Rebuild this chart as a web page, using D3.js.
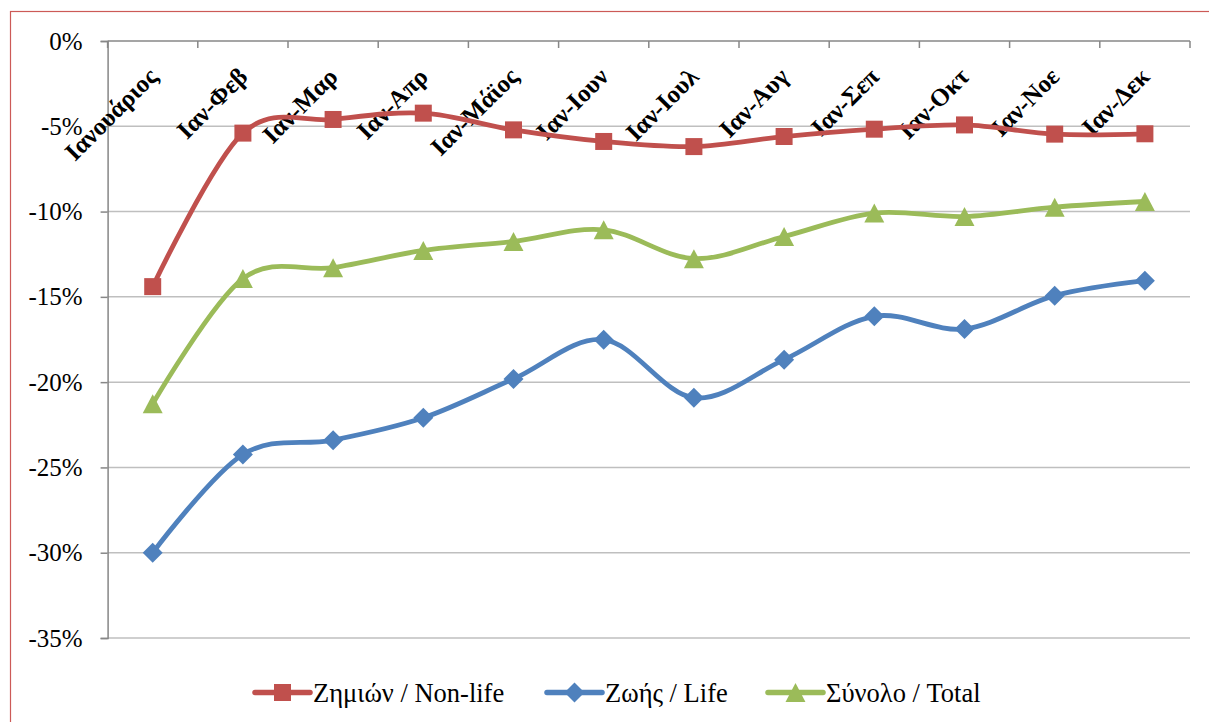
<!DOCTYPE html>
<html><head><meta charset="utf-8">
<script src="https://cdn.jsdelivr.net/npm/d3@7"></script>
<style>
body{margin:0;background:#fff;} svg{display:block;}
</style>
</head><body>
<script>
const categories = ["Ιανουάριος","Ιαν-Φεβ","Ιαν-Μαρ","Ιαν-Απρ","Ιαν-Μάϊος","Ιαν-Ιουν","Ιαν-Ιουλ","Ιαν-Αυγ","Ιαν-Σεπ","Ιαν-Οκτ","Ιαν-Νοε","Ιαν-Δεκ"];
const nonLife = [-14.4,-5.4,-4.6,-4.23,-5.21,-5.89,-6.19,-5.6,-5.17,-4.92,-5.46,-5.44];
const life    = [-30.0,-24.24,-23.4,-22.09,-19.81,-17.51,-20.92,-18.68,-16.14,-16.88,-14.93,-14.05];
const total   = [-21.27,-13.93,-13.29,-12.28,-11.75,-11.07,-12.76,-11.46,-10.09,-10.29,-9.74,-9.41];
const yTicks  = [0,-5,-10,-15,-20,-25,-30,-35];
const seriesNames = ["Ζημιών / Non-life","Ζωής / Life","Σύνολο / Total"];

const W = 1209, H = 722;
const FONT = '"Liberation Serif"';
const svg = d3.select("body").append("svg").attr("width", W).attr("height", H);

// chart border
svg.append("rect").attr("x",10.5).attr("y",11.5).attr("width",1230).attr("height",740)
  .attr("fill","none").attr("stroke","#cc5a57").attr("stroke-width",1.2);

const L = 107.6, R = 1190, T = 41, B = 638;
const x = d3.scaleBand().domain(categories).range([L, R]).padding(0);
const y = d3.scaleLinear().domain([0, -35]).range([T, B]);
const cx = c => x(c) + x.bandwidth()/2;

// gridlines
svg.append("g").selectAll("line").data(yTicks.filter(v => v !== 0)).join("line")
  .attr("x1", L).attr("x2", R).attr("y1", d => y(d)).attr("y2", d => y(d))
  .attr("stroke", "#bfbfbf").attr("stroke-width", 1.5);

// y axis
const yAxis = d3.axisLeft(y).tickValues(yTicks).tickSize(7).tickPadding(18)
  .tickFormat(d => d + "%");
const gy = svg.append("g").attr("transform", `translate(${L},0)`).call(yAxis)
  .attr("font-family", null).attr("font-size", null);
gy.select(".domain").attr("stroke", "#878787").attr("stroke-width", 1.5);
gy.selectAll(".tick line").attr("stroke", "#878787").attr("stroke-width", 1.5);
gy.selectAll(".tick text").style("font-family", FONT)
  .style("font-size", "25px").attr("fill", "#000");

// x axis at top (0%) with ticks at band edges pointing down
const edges = categories.map(c => x(c)).concat([R]);
svg.append("line").attr("x1", L).attr("x2", R).attr("y1", T).attr("y2", T)
  .attr("stroke", "#878787").attr("stroke-width", 1.5);
svg.append("g").selectAll("line").data(edges).join("line")
  .attr("x1", d => d).attr("x2", d => d).attr("y1", T).attr("y2", T + 7)
  .attr("stroke", "#878787").attr("stroke-width", 1.5);

// category labels
svg.append("g").selectAll("text").data(categories).join("text")
  .attr("transform", d => `translate(${cx(d)},${72}) rotate(-45)`)
  .attr("text-anchor", "end").attr("dy", "0.35em")
  .style("font-family", FONT)
  .style("font-weight", "bold").style("font-size", "25px").attr("fill", "#000")
  .text(d => d);

const series = [
  {name: seriesNames[0], values: nonLife, color: "#C0504D", marker: "square"},
  {name: seriesNames[1], values: life, color: "#4F81BD", marker: "diamond"},
  {name: seriesNames[2], values: total, color: "#9BBB59", marker: "triangle"}
];

const line = d3.line().curve(d3.curveCardinal.tension(0))
  .x((d, i) => cx(categories[i])).y(d => y(d));

function markerPath(type, s) {
  if (type === "square") { const h = s/2; return `M${-h},${-h}H${h}V${h}H${-h}Z`; }
  if (type === "diamond") { const h = s/2; return `M0,${-h}L${h},0L0,${h}L${-h},0Z`; }
  const h = s/2; return `M0,${-h}L${h*1.05},${h}L${-h*1.05},${h}Z`;
}
const mSize = {square: 17, diamond: 20, triangle: 19};

series.forEach(s => {
  svg.append("path").datum(s.values).attr("d", line)
    .attr("fill", "none").attr("stroke", s.color).attr("stroke-width", 4.8)
    .attr("stroke-linejoin", "round").attr("stroke-linecap", "round");
});
series.forEach(s => {
  svg.append("g").selectAll("path").data(s.values).join("path")
    .attr("transform", (d, i) => `translate(${cx(categories[i])},${y(d)})`)
    .attr("d", markerPath(s.marker, mSize[s.marker])).attr("fill", s.color);
});

// legend
const legendX = [255, 547, 768];
const legendY = 692.5;
const lg = svg.append("g");
series.forEach((s, i) => {
  const g = lg.append("g").attr("transform", `translate(${legendX[i]},${legendY})`);
  g.append("line").attr("x1", 0).attr("x2", 55).attr("y1", 0).attr("y2", 0)
    .attr("stroke", s.color).attr("stroke-width", 5.5).attr("stroke-linecap", "round");
  g.append("path").attr("transform", "translate(27.5,0)")
    .attr("d", markerPath(s.marker, mSize[s.marker])).attr("fill", s.color);
  g.append("text").attr("x", 58).attr("y", 0).attr("dy", "0.35em")
    .style("font-family", FONT)
    .style("font-size", "26.5px").attr("fill", "#000").text(s.name);
});
</script>
</body></html>
